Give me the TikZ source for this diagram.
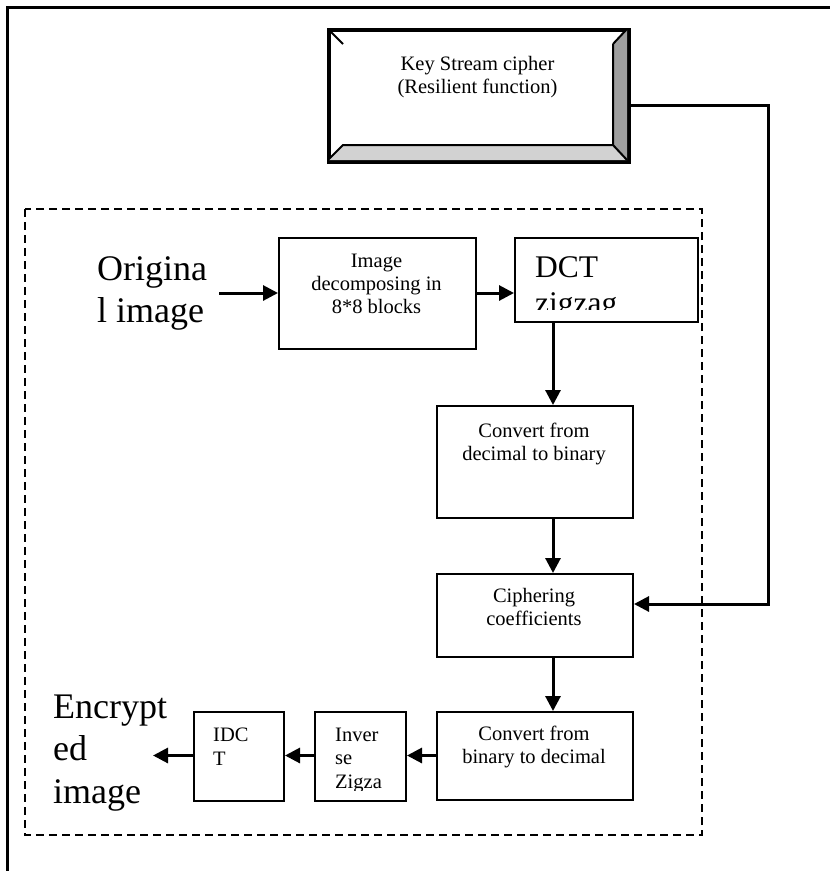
\documentclass[tikz,border=0pt]{standalone}
\usepackage{fontspec}
\setmainfont{Liberation Serif}
\usetikzlibrary{arrows.meta}
\begin{document}
\begin{tikzpicture}[x=1pt,y=-1pt,
  box/.style={draw=black, line width=2pt, inner sep=0pt, anchor=north west, fill=white},
  conn/.style={line width=3pt, -{Triangle[length=15pt,width=15pt]}},
  small/.style={font=\fontsize{20.5}{23}\selectfont, inner sep=0pt, anchor=base},
  smallw/.style={font=\fontsize{20.5}{23.5}\selectfont, inner sep=0pt, anchor=base west},
  big/.style={font=\fontsize{36}{42.5}\selectfont, inner sep=0pt, anchor=base west},
  dctf/.style={font=\fontsize{31.5}{36}\selectfont, inner sep=0pt, anchor=base west},
  frame/.style={line width=2.5pt},
  dash box/.style={line width=2pt, dash pattern=on 8pt off 5pt}]
\useasboundingbox (0,0) rectangle (830,871);

% outer frame (open on right and bottom)
\coordinate (fbl) at (7.5,871);
\coordinate (ftl) at (7.5,7.5);
\coordinate (ftr) at (830,7.5);
\draw[frame] (fbl) -- (ftl) -- (ftr);

% dashed enclosure
\draw[dash box] (25,209) rectangle (702,835);

% key stream bevel box
\node[box, line width=2.5pt, minimum width=299pt, minimum height=131pt] (key) at (328,29) {};
\fill[gray!75] (627,29) -- (627,160) -- (613,145) -- (613,44) -- cycle;
\fill[gray!35] (328,160) -- (627,160) -- (613,145) -- (343,145) -- cycle;
\draw[line width=2pt] (328,29) -- (343,44) (627,29) -- (613,44)
  (328,160) -- (343,145) -- (613,145) -- (627,160) (613,145) -- (613,44);
\draw[line width=2.5pt] (key.north west) rectangle (key.south east);
\node[small] (keyt) at (477.5,70) {\begin{tabular}[t]{@{}c@{}}Key Stream cipher\\(Resilient function)\end{tabular}};

% boxes
\node[box, minimum width=197pt, minimum height=111pt] (dec) at (278,237) {};
\node[box, minimum width=183pt, minimum height=84pt] (dct) at (514,237) {};
\node[box, minimum width=196pt, minimum height=112pt] (d2b) at (436,405) {};
\node[box, minimum width=196pt, minimum height=83pt] (ciph) at (436,573) {};
\node[box, minimum width=196pt, minimum height=88pt] (b2d) at (436,711) {};
\node[box, minimum width=91pt, minimum height=89pt] (inv) at (314,711) {};
\node[box, minimum width=90pt, minimum height=89pt] (idct) at (193,711) {};

% texts
\node[big] (orig) at (97,280) {\begin{tabular}[t]{@{}l@{}}Origina\\l image\end{tabular}};
\node[small] (dect) at (376.5,267) {\begin{tabular}[t]{@{}c@{}}Image\\decomposing in\\8*8 blocks\end{tabular}};
\begin{scope}
  \clip (514,237) rectangle (697,309);
  \node[dctf] (dctt) at (535,277) {\begin{tabular}[t]{@{}l@{}}DCT\\zigzag\end{tabular}};
\end{scope}
\node[small] (d2bt) at (534,437) {\begin{tabular}[t]{@{}c@{}}Convert from\\decimal to binary\end{tabular}};
\node[small] (cipht) at (534,602) {\begin{tabular}[t]{@{}c@{}}Ciphering\\coefficients\end{tabular}};
\node[small] (b2dt) at (534,740) {\begin{tabular}[t]{@{}c@{}}Convert from\\binary to decimal\end{tabular}};
\begin{scope}
  \clip (314,711) rectangle (405,790);
  \node[smallw] (invt) at (335,741) {\begin{tabular}[t]{@{}l@{}}Inver\\se\\Zigza\end{tabular}};
\end{scope}
\node[smallw] (idctt) at (213,741.5) {\begin{tabular}[t]{@{}l@{}}IDC\\T\end{tabular}};
\node[big] (enc) at (53,718) {\begin{tabular}[t]{@{}l@{}}Encrypt\\ed\\image\end{tabular}};

% connectors
\coordinate (origend) at (219,293);
\coordinate (dx) at (553,0);
\coordinate (kr) at (768,105);
\coordinate (kb) at (768,604);
\coordinate (encend) at (153,755.5);

\draw[conn] (origend) -- (dec.west |- origend);
\draw[conn] (dec.east |- origend) -- (dct.west |- origend);
\draw[conn] (dct.south -| dx) -- (d2b.north -| dx);
\draw[conn] (d2b.south -| dx) -- (ciph.north -| dx);
\draw[conn] (ciph.south -| dx) -- (b2d.north -| dx);
\draw[conn] (key.east |- kr) -- (kr) -- (kb) -- (ciph.east |- kb);
\draw[conn] (b2d.west |- encend) -- (inv.east |- encend);
\draw[conn] (inv.west |- encend) -- (idct.east |- encend);
\draw[conn] (idct.west |- encend) -- (encend);
\end{tikzpicture}
\end{document}
